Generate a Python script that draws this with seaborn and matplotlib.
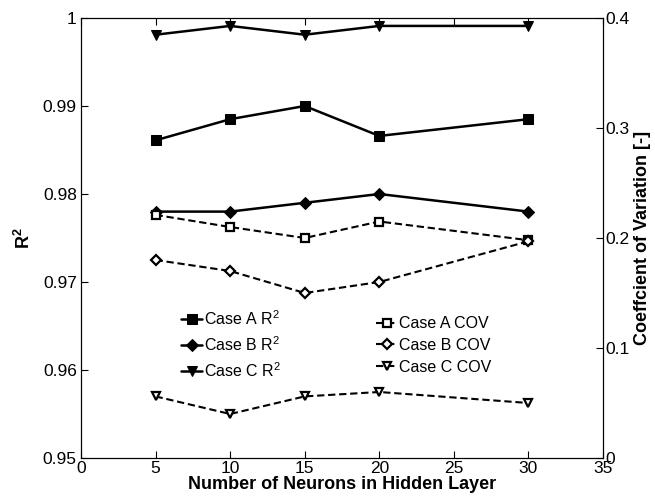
import matplotlib
matplotlib.use("Agg")
import matplotlib.pyplot as plt
import seaborn as sns
import pandas as pd
import numpy as np

neurons = [5, 10, 15, 20, 30]
r2_a = [0.9861, 0.9885, 0.9900, 0.9866, 0.9885]
r2_b = [0.9780, 0.9780, 0.9790, 0.9800, 0.9780]
r2_c = [0.9981, 0.9991, 0.9981, 0.9991, 0.9991]
cov_a = [0.221, 0.210, 0.200, 0.215, 0.198]
cov_b = [0.180, 0.170, 0.150, 0.160, 0.197]
cov_c = [0.056, 0.040, 0.056, 0.060, 0.050]

sns.set_theme(style="white")
plt.rcParams['font.family'] = ['Liberation Sans', 'DejaVu Sans']
plt.rcParams['mathtext.fontset'] = 'custom'
plt.rcParams['mathtext.rm'] = 'Liberation Sans'
plt.rcParams['mathtext.bf'] = 'Liberation Sans:bold'

fig = plt.figure(figsize=(6.55, 5.03), dpi=100)
ax = fig.add_axes([81/655, 45/503, (603-81)/655, (458-18)/503])
ax2 = ax.twinx()

r2_series = [(r2_a, 's', 'Case A R$^2$'), (r2_b, 'D', 'Case B R$^2$'), (r2_c, 'v', 'Case C R$^2$')]
cov_series = [(cov_a, 's', 'Case A COV'), (cov_b, 'D', 'Case B COV'), (cov_c, 'v', 'Case C COV')]
msize = {'s': 6.5, 'D': 6.5, 'v': 7.5}
msize_open = {'s': 5.8, 'D': 5.5, 'v': 6.0}

h1 = []
for vals, m, lab in r2_series:
    df = pd.DataFrame({'x': neurons, 'y': vals})
    sns.lineplot(data=df, x='x', y='y', ax=ax, color='black', lw=1.8,
                 marker=m, markersize=msize[m], markerfacecolor='black',
                 markeredgecolor='black', label=lab, legend=False)
    h1.append(ax.lines[-1])

h2 = []
for vals, m, lab in cov_series:
    df = pd.DataFrame({'x': neurons, 'y': vals})
    sns.lineplot(data=df, x='x', y='y', ax=ax2, color='black', lw=1.5,
                 linestyle=(0, (3.5, 1.8)), marker=m, markersize=msize_open[m],
                 markerfacecolor='white', markeredgecolor='black',
                 markeredgewidth=1.6, label=lab, legend=False)
    h2.append(ax2.lines[-1])

ax.set_xlim(0, 35)
ax.set_ylim(0.95, 1.0)
ax2.set_ylim(0, 0.4)
ax.set_xticks([0, 5, 10, 15, 20, 25, 30, 35])
ax.set_yticks([0.95, 0.96, 0.97, 0.98, 0.99, 1.0])
ax.set_yticklabels(['0.95', '0.96', '0.97', '0.98', '0.99', '1'])
ax2.set_yticks([0, 0.1, 0.2, 0.3, 0.4])
ax2.set_yticklabels(['0', '0.1', '0.2', '0.3', '0.4'])

for a in (ax, ax2):
    for s in a.spines.values():
        s.set_color('black')
        s.set_linewidth(0.8)
ax.tick_params(axis='both', direction='in', length=5, width=0.8, labelsize=12.5,
               colors='black', top=True, bottom=True, left=True, right=False, pad=3)
ax2.tick_params(axis='y', direction='in', length=5, width=0.8, labelsize=12.5,
                colors='black', right=True, left=False, pad=2)
ax.tick_params(axis='x', pad=2)

ax.set_xlabel('Number of Neurons in Hidden Layer', fontsize=13, fontweight='bold', labelpad=0)
ax.set_ylabel('R$^\\mathbf{2}$', fontsize=13, fontweight='bold', labelpad=6)
ax2.set_ylabel('Coeffcient of Variation [-]', fontsize=13, fontweight='bold', labelpad=3)
ax.xaxis.label.set_color('black')
ax.yaxis.label.set_color('black')
ax2.yaxis.label.set_color('black')

leg1 = fig.legend(handles=h1, labels=[h.get_label() for h in h1], loc='upper left',
                  bbox_to_anchor=(170/655, 1 - 298/503), frameon=False, fontsize=11.5,
                  handlelength=1.3, handletextpad=0.1, labelspacing=0.45, borderpad=0.2)
leg2 = fig.legend(handles=h2, labels=[h.get_label() for h in h2], loc='upper left',
                  bbox_to_anchor=(365/655, 1 - 305/503), frameon=False, fontsize=11.5,
                  handlelength=1.3, handletextpad=0.1, labelspacing=0.42, borderpad=0.2)
for leg in (leg1, leg2):
    for t in leg.get_texts():
        t.set_color('black')

fig.savefig('out.png', dpi=100, facecolor='white')
